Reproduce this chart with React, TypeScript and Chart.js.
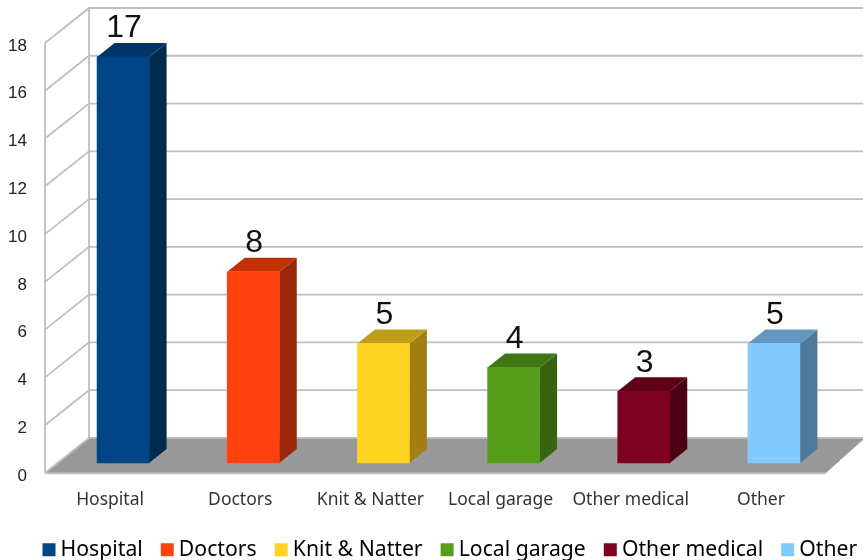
import React, { useEffect, useRef } from "react";
import { Chart, registerables } from "chart.js";

Chart.register(...registerables);

const categories = ["Hospital", "Doctors", "Knit & Natter", "Local garage", "Other medical", "Other"];
const values = [17, 8, 5, 4, 3, 5];
const frontColors = ["#004586", "#FF420E", "#FFD320", "#579D1C", "#7E0021", "#83CAFF"];
const topColors = ["#003464", "#C43100", "#BF9E18", "#417615", "#5F0019", "#6298BF"];
const sideColors = ["#002A50", "#992808", "#A37F13", "#386411", "#4C0014", "#4F7A99"];

const depth = { x: 44, y: 35 };
const barDepth = { x: 17.5, y: 14 };
const barShift = { x: 13, y: -10 };

const solid3d = {
  id: "solid3d",
  afterLayout(chart: any) {
    if (chart.legend) {
      chart.legend.left = 24.5;
      chart.legend.right = 887.5;
    }
  },
  beforeDraw(chart: any) {
    const { ctx, chartArea, scales } = chart;
    const y = scales.y;
    const W = chart.width;
    ctx.save();
    const l = chartArea.left;
    const b = y.getPixelForValue(0);
    const t = y.getPixelForValue(18);
    // floor
    ctx.fillStyle = "#999999";
    ctx.beginPath();
    ctx.moveTo(l, b);
    ctx.lineTo(l + depth.x, b - depth.y);
    ctx.lineTo(W + 2, b - depth.y);
    ctx.lineTo(chartArea.right, b);
    ctx.closePath();
    ctx.fill();
    ctx.strokeStyle = "#c4c4c4";
    ctx.lineWidth = 1.8;
    ctx.beginPath();
    ctx.moveTo(l, b + 0.5);
    ctx.lineTo(chartArea.right, b + 0.5);
    ctx.stroke();
    ctx.strokeStyle = "#bfbfbf";
    for (const tick of y.ticks) {
      const py = y.getPixelForValue(tick.value);
      ctx.beginPath();
      ctx.moveTo(l, py);
      ctx.lineTo(l + depth.x, py - depth.y);
      ctx.lineTo(W, py - depth.y);
      ctx.stroke();
    }
    ctx.beginPath();
    ctx.moveTo(l, t);
    ctx.lineTo(l, b);
    ctx.moveTo(l + depth.x, t - depth.y);
    ctx.lineTo(l + depth.x, b - depth.y);
    ctx.stroke();
    ctx.restore();
  },
  beforeDatasetsDraw(chart: any) {
    const { ctx } = chart;
    const bars = chart.getDatasetMeta(0).data;
    ctx.save();
    bars.forEach((bar: any, i: number) => {
      const left = bar.x - bar.width / 2 + barShift.x;
      const right = left + bar.width;
      const top = bar.y + barShift.y;
      const base = bar.base + barShift.y;
      ctx.fillStyle = sideColors[i];
      ctx.beginPath();
      ctx.moveTo(right, top);
      ctx.lineTo(right + barDepth.x, top - barDepth.y);
      ctx.lineTo(right + barDepth.x, base - barDepth.y);
      ctx.lineTo(right, base);
      ctx.closePath();
      ctx.fill();
      ctx.fillStyle = topColors[i];
      ctx.beginPath();
      ctx.moveTo(left, top);
      ctx.lineTo(left + barDepth.x, top - barDepth.y);
      ctx.lineTo(right + barDepth.x, top - barDepth.y);
      ctx.lineTo(right, top);
      ctx.closePath();
      ctx.fill();
    });
    ctx.restore();
    ctx.save();
    ctx.translate(barShift.x, barShift.y);
  },
  afterDatasetsDraw(chart: any) {
    const { ctx } = chart;
    ctx.restore();
    ctx.save();
    ctx.font = "32px 'Liberation Sans'";
    ctx.fillStyle = "#111111";
    ctx.textAlign = "center";
    ctx.textBaseline = "alphabetic";
    chart.getDatasetMeta(0).data.forEach((bar: any, i: number) => {
      ctx.fillText(String(values[i]), bar.x + barShift.x + 1, bar.y + barShift.y - barDepth.y - 5.5);
    });
    ctx.restore();
  },
};

export default function App() {
  const ref = useRef<HTMLCanvasElement>(null);
  useEffect(() => {
    const chart = new Chart(ref.current as HTMLCanvasElement, {
      type: "bar",
      data: {
        labels: categories,
        datasets: [{ data: values, backgroundColor: frontColors, barThickness: 52, clip: false } as any],
      },
      plugins: [solid3d],
      options: {
        animation: false,
        responsive: false,
        layout: { padding: { top: 43, left: 0, right: 0, bottom: -10.4 } },
        plugins: {
          tooltip: { enabled: false },
          legend: {
            position: "bottom",
            align: "start",
            labels: {
              usePointStyle: true,
              pointStyle: "rect",
              boxWidth: 2,
              boxHeight: 13,
              padding: 23.5,
              color: "#1a1a1a",
              font: { family: "'Noto Sans'", size: 21.2 },
              generateLabels: () =>
                categories.map((text, i) => ({
                  text,
                  fillStyle: frontColors[i],
                  strokeStyle: frontColors[i],
                  lineWidth: 0,
                  pointStyle: "rect",
                  index: i,
                  datasetIndex: 0,
                })),
            },
          },
        },
        scales: {
          x: {
            grid: { display: false },
            border: { display: false },
            ticks: { color: "#333333", font: { family: "'Noto Sans'", size: 17.5 }, padding: 9, maxRotation: 0, autoSkip: false },
            afterFit: (s: any) => {
              s.height = 42.75;
            },
          },
          y: {
            min: 0,
            max: 18,
            grid: { display: false },
            border: { display: false },
            ticks: { stepSize: 2, color: "#222222", font: { family: "'Liberation Sans'", size: 17 }, padding: 10, labelOffset: 3 },
            afterFit: (s: any) => {
              s.width = 45;
            },
          },
          rightGap: {
            position: "right",
            min: 0,
            max: 18,
            grid: { display: false },
            border: { display: false },
            ticks: { display: false },
            afterFit: (s: any) => {
              s.width = 37;
            },
          },
        },
      } as any,
    });
    return () => chart.destroy();
  }, []);
  return (
    <canvas
      ref={ref}
      width={863}
      height={560}
      style={{ position: "absolute", left: 0, top: 0, display: "block" }}
    />
  );
}
